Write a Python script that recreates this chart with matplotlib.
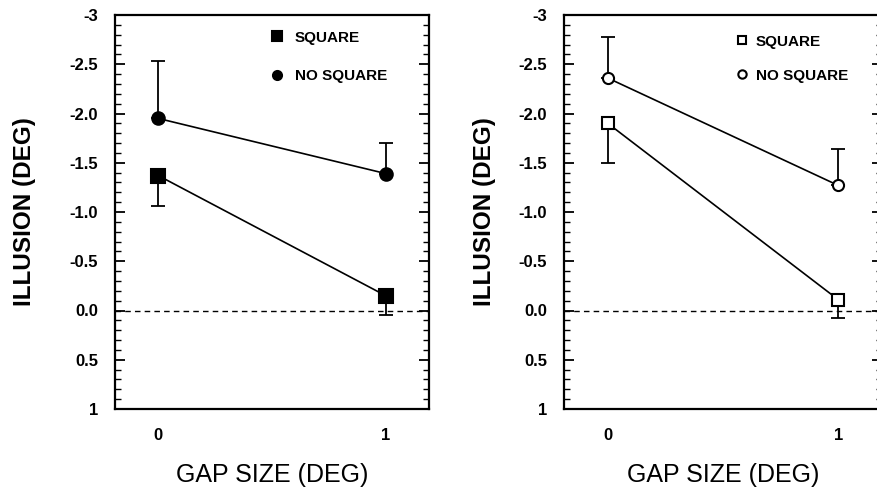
import matplotlib.pyplot as plt
import numpy as np
from matplotlib.ticker import MultipleLocator, FixedLocator

plt.rcParams['font.family'] = ['Liberation Sans', 'DejaVu Sans']

gap = [0, 1]

# left panel (filled markers)
left_square = [-1.37, -0.15]
left_square_err = [0.31, 0.20]      # error drawn toward zero
left_nosquare = [-1.95, -1.39]
left_nosquare_err = [0.58, 0.31]    # error drawn away from zero

# right panel (open markers)
right_square = [-1.90, -0.11]
right_square_err = [0.40, 0.19]
right_nosquare = [-2.36, -1.27]
right_nosquare_err = [0.42, 0.37]

ytick_vals = [-3, -2.5, -2.0, -1.5, -1.0, -0.5, 0.0, 0.5, 1]
ytick_labels = ["-3", "-2.5", "-2.0", "-1.5", "-1.0", "-0.5", "0.0", "0.5", "1"]

fig = plt.figure(figsize=(8.78, 4.88), dpi=100)
ax1 = fig.add_axes([115 / 878, 1 - 409 / 488, 314 / 878, 394 / 488])
ax2 = fig.add_axes([564 / 878, 1 - 409 / 488, 318 / 878, 394 / 488])


def draw_panel(ax, sq, sq_err, nsq, nsq_err, filled, leg_anchor, leg_space,
               text_pad, ylab_pad):
    zeros = np.zeros(len(gap))
    fc = "black" if filled else "white"
    ax.axhline(0, color="black", lw=1, ls=(0, (4, 3)), zorder=1)
    ax.errorbar(gap, nsq, yerr=[nsq_err, zeros], fmt="none", ecolor="black",
                elinewidth=1.3, capsize=5, capthick=1.3, zorder=2)
    ax.errorbar(gap, sq, yerr=[zeros, sq_err], fmt="none", ecolor="black",
                elinewidth=1.3, capsize=5, capthick=1.3, zorder=2)
    ax.plot(gap, sq, color="black", lw=1.2, marker="s",
            ms=10 if filled else 9, mfc=fc, mec="black", mew=1.5,
            label="SQUARE", zorder=3)
    ax.plot(gap, nsq, color="black", lw=1.2, marker="o",
            ms=9 if filled else 8, mfc=fc, mec="black", mew=1.5,
            label="NO SQUARE", zorder=3)

    ax.set_xlim(-0.19, 1.19)
    ax.set_ylim(1, -3)
    ax.yaxis.set_major_locator(FixedLocator(ytick_vals))
    ax.set_yticklabels(ytick_labels, fontsize=12, fontweight="bold")
    ax.yaxis.set_minor_locator(MultipleLocator(0.1))
    ax.set_xticks(gap)
    ax.set_xticklabels(["0", "1"], fontsize=12, fontweight="bold")
    ax.tick_params(axis="x", length=0, pad=14)
    ax.tick_params(axis="y", which="major", direction="in", length=7,
                   width=1.3, right=True, pad=12)
    ax.tick_params(axis="y", which="minor", direction="in", length=4,
                   width=1, right=True)
    for s in ax.spines.values():
        s.set_linewidth(1.6)
    ax.set_ylabel("ILLUSION (DEG)", fontsize=17.5, fontweight="bold",
                  labelpad=ylab_pad)
    ax.set_xlabel("GAP SIZE (DEG)", fontsize=18, labelpad=14)
    leg = ax.legend(loc="upper left", bbox_to_anchor=leg_anchor,
                    borderaxespad=0, borderpad=0,
                    frameon=False, handlelength=0.6, handletextpad=text_pad,
                    labelspacing=leg_space,
                    prop={"size": 11, "weight": "bold"})
    for h in leg.legend_handles:
        h.set_linestyle("none")
        h.set_markersize(6.5 if filled else 6)


draw_panel(ax1, left_square, left_square_err, left_nosquare, left_nosquare_err,
           True, (0.5, 0.96), 1.6, 0.9, 24)
draw_panel(ax2, right_square, right_square_err, right_nosquare, right_nosquare_err,
           False, (0.545, 0.95), 1.3, 0.6, 16)

fig.savefig("out.png", dpi=100)
